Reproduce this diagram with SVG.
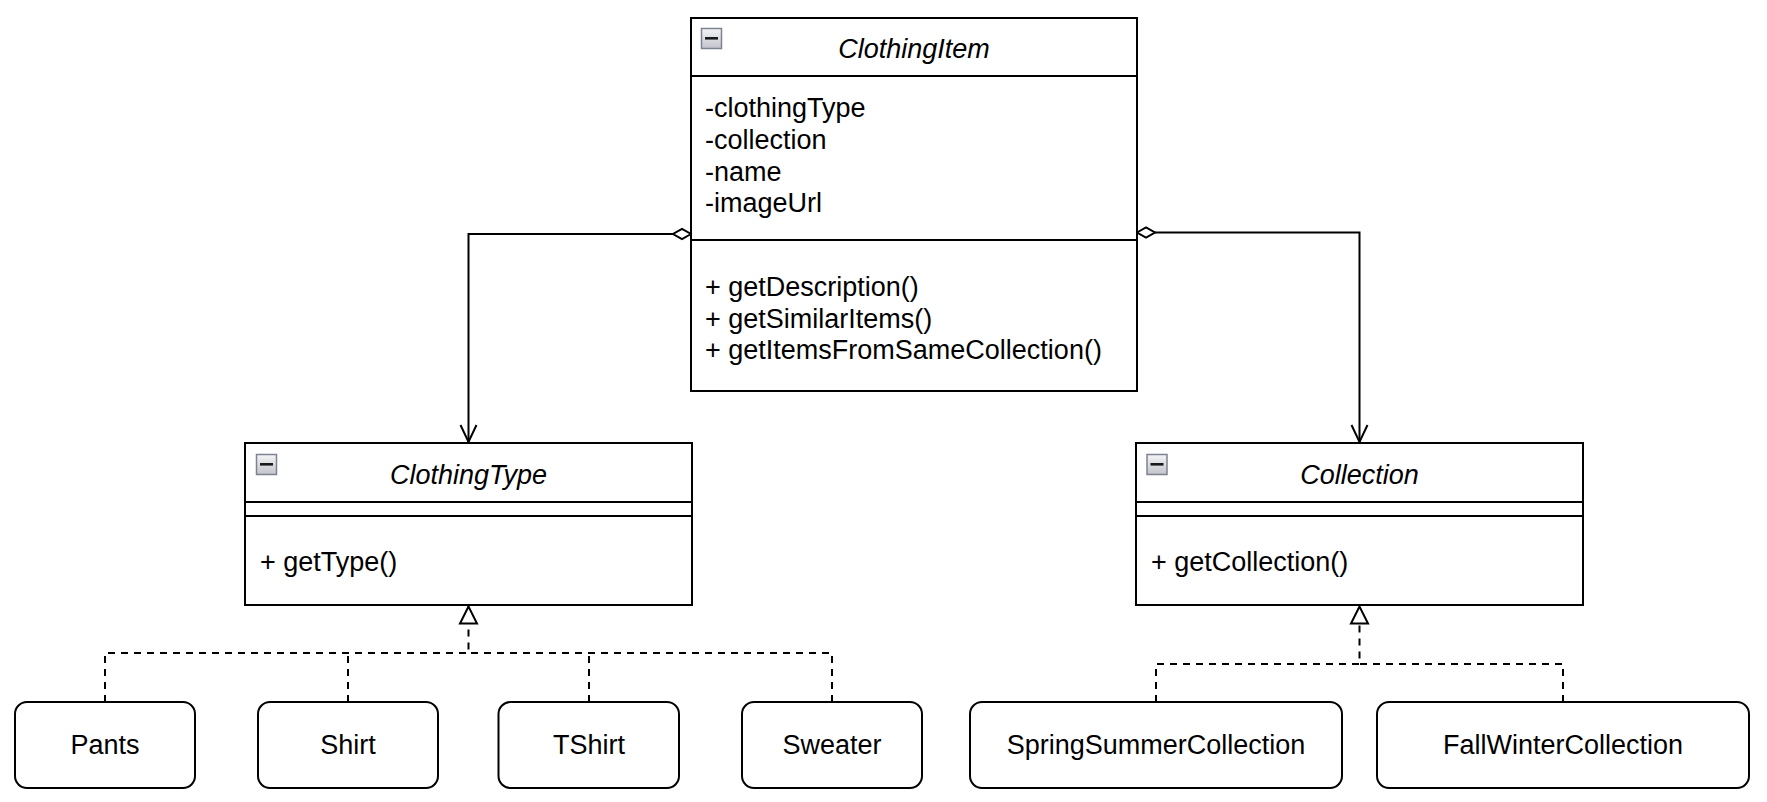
<svg xmlns="http://www.w3.org/2000/svg" width="1767" height="802" viewBox="0 0 1767 802">
<style>
.box{fill:#fff;stroke:#000;stroke-width:2}
.div{stroke:#000;stroke-width:2;fill:none}
.t{font-family:"Liberation Sans",Arial,Helvetica,sans-serif;font-size:27px;fill:#000}
.ti{font-style:italic;text-anchor:middle}
.c{text-anchor:middle}
.edge{fill:none;stroke:#000;stroke-width:2}
.dash{stroke-dasharray:7 6}
.ico{fill:url(#g);stroke:#7d8290;stroke-width:1.5}
.bar{fill:#1a1a1a}
</style>
<defs>
<linearGradient id="g" x1="0" y1="0" x2="0" y2="1">
<stop offset="0" stop-color="#f4f4f6"/>
<stop offset="1" stop-color="#c2c4cc"/>
</linearGradient>
<marker id="diamond" markerUnits="userSpaceOnUse" markerWidth="24" markerHeight="14" refX="0" refY="0" viewBox="-2 -7 24 14" orient="auto" overflow="visible">
<path d="M0,0 L9,-5 L18,0 L9,5 Z" fill="#fff" stroke="#000" stroke-width="2" stroke-dasharray="none"/>
</marker>
<marker id="open" markerUnits="userSpaceOnUse" markerWidth="22" markerHeight="22" refX="0" refY="0" viewBox="-20 -11 22 22" orient="auto" overflow="visible">
<path d="M-17,-8 L0,0 L-17,8" fill="none" stroke="#000" stroke-width="2" stroke-dasharray="none"/>
</marker>
<marker id="tri" markerUnits="userSpaceOnUse" markerWidth="22" markerHeight="22" refX="0" refY="0" viewBox="-20 -11 22 22" orient="auto" overflow="visible">
<path d="M0,0 L-17,-8.5 L-17,8.5 Z" fill="#fff" stroke="#000" stroke-width="2" stroke-dasharray="none"/>
</marker>
</defs>
<rect width="1767" height="802" fill="#fff"/>

<g id="connectors">
<path class="edge" d="M691,234 H468.5 V442" marker-start="url(#diamond)" marker-end="url(#open)"/>
<path class="edge" d="M1137,232.5 H1359.5 V442" marker-start="url(#diamond)" marker-end="url(#open)"/>
<path class="edge dash" d="M105,702 V653 H468.5 V606.5" marker-end="url(#tri)"/>
<path class="edge dash" d="M348,702 V653"/>
<path class="edge dash" d="M589,702 V653"/>
<path class="edge dash" d="M832,702 V653 H468.5"/>
<path class="edge dash" d="M1156,702 V664 H1359.5 V606.5" marker-end="url(#tri)"/>
<path class="edge dash" d="M1563,702 V664 H1359.5"/>
</g>

<g id="ClothingItem">
<rect class="box" x="691" y="18" width="446" height="373"/>
<line class="div" x1="691" y1="76" x2="1137" y2="76"/>
<line class="div" x1="691" y1="240" x2="1137" y2="240"/>
<rect class="ico" x="701.5" y="28.5" width="20" height="20"/>
<rect class="bar" x="705" y="37" width="13" height="2.6"/>
<text class="t ti" x="914" y="58">ClothingItem</text>
<text class="t" x="705" y="117.3">-clothingType</text>
<text class="t" x="705" y="149">-collection</text>
<text class="t" x="705" y="180.7">-name</text>
<text class="t" x="705" y="212.4">-imageUrl</text>
<text class="t" x="705" y="296">+ getDescription()</text>
<text class="t" x="705" y="327.7">+ getSimilarItems()</text>
<text class="t" x="705" y="359.4">+ getItemsFromSameCollection()</text>
</g>

<g id="ClothingType">
<rect class="box" x="245" y="443" width="447" height="162"/>
<line class="div" x1="245" y1="502" x2="692" y2="502"/>
<line class="div" x1="245" y1="516" x2="692" y2="516"/>
<rect class="ico" x="256.5" y="454.5" width="20" height="20"/>
<rect class="bar" x="260" y="463" width="13" height="2.6"/>
<text class="t ti" x="468.5" y="483.5">ClothingType</text>
<text class="t" x="260" y="571">+ getType()</text>
</g>

<g id="Collection">
<rect class="box" x="1136" y="443" width="447" height="162"/>
<line class="div" x1="1136" y1="502" x2="1583" y2="502"/>
<line class="div" x1="1136" y1="516" x2="1583" y2="516"/>
<rect class="ico" x="1147" y="454.5" width="20" height="20"/>
<rect class="bar" x="1150.5" y="463" width="13" height="2.6"/>
<text class="t ti" x="1359.5" y="483.5">Collection</text>
<text class="t" x="1151" y="571">+ getCollection()</text>
</g>

<g id="Pants">
<rect class="box" x="15" y="702" width="180" height="86" rx="12"/>
<text class="t c" x="105" y="754">Pants</text>
</g>
<g id="Shirt">
<rect class="box" x="258" y="702" width="180" height="86" rx="12"/>
<text class="t c" x="348" y="754">Shirt</text>
</g>
<g id="TShirt">
<rect class="box" x="498.5" y="702" width="180.5" height="86" rx="12"/>
<text class="t c" x="589" y="754">TShirt</text>
</g>
<g id="Sweater">
<rect class="box" x="742" y="702" width="180" height="86" rx="12"/>
<text class="t c" x="832" y="754">Sweater</text>
</g>
<g id="SpringSummerCollection">
<rect class="box" x="970" y="702" width="372" height="86" rx="12"/>
<text class="t c" x="1156" y="754">SpringSummerCollection</text>
</g>
<g id="FallWinterCollection">
<rect class="box" x="1377" y="702" width="372" height="86" rx="12"/>
<text class="t c" x="1563" y="754">FallWinterCollection</text>
</g>
</svg>
